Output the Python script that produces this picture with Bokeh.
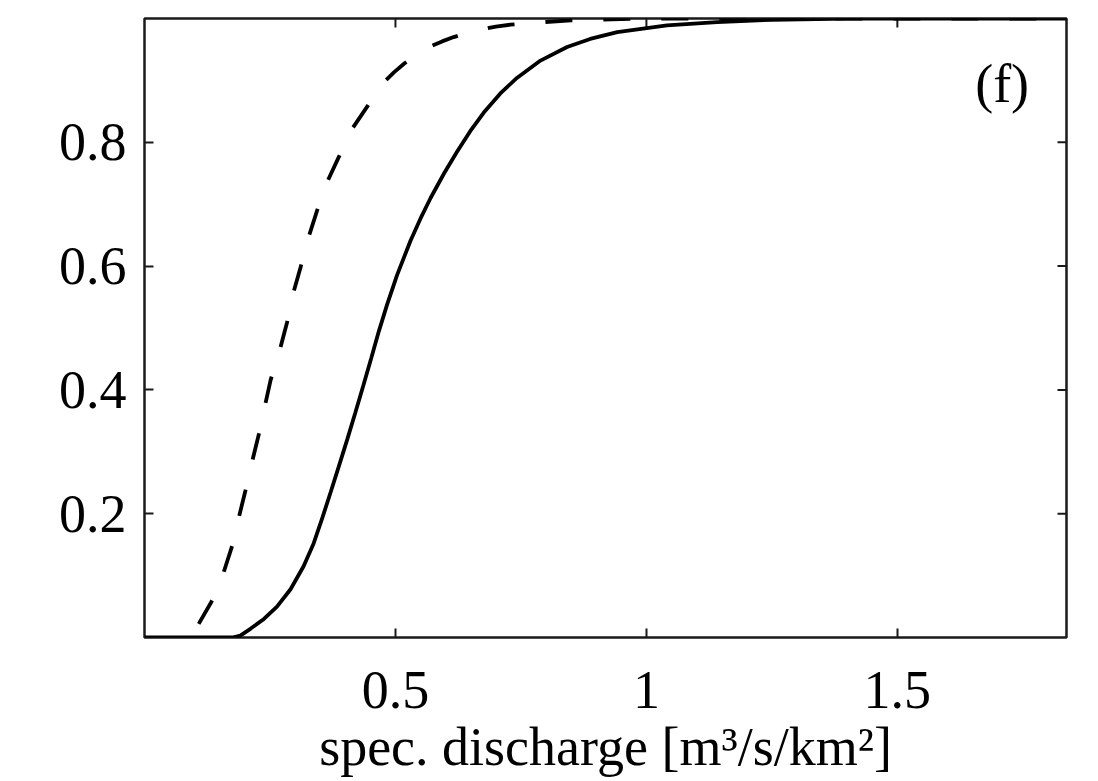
import math
from bokeh.plotting import figure
from bokeh.models import FixedTicker, Label, CustomJSTickFormatter, Range1d
from bokeh.embed import file_html
from bokeh.resources import INLINE

# Data
solid_x = [0.0, 0.10, 0.175, 0.191, 0.211, 0.238, 0.264, 0.291, 0.317, 0.337, 0.355,
           0.371, 0.387, 0.404, 0.420, 0.436, 0.452, 0.467, 0.483, 0.503, 0.530, 0.550,
           0.570, 0.597, 0.623, 0.649, 0.676, 0.709, 0.742, 0.789, 0.842, 0.888, 0.942,
           1.041, 1.141, 1.25, 1.40, 1.84]
solid_y = [0.0, 0.0, 0.0, 0.003, 0.014, 0.030, 0.050, 0.078, 0.115, 0.152, 0.195,
           0.235, 0.276, 0.320, 0.363, 0.407, 0.452, 0.495, 0.537, 0.585, 0.641, 0.677,
           0.710, 0.750, 0.785, 0.818, 0.848, 0.879, 0.904, 0.932, 0.954, 0.967, 0.978,
           0.989, 0.994, 0.998, 1.0, 1.0]

dashed_x = [0.108, 0.135, 0.158, 0.175, 0.188, 0.201, 0.215, 0.228, 0.241, 0.251, 0.271,
            0.284, 0.297, 0.311, 0.327, 0.344, 0.364, 0.387, 0.414, 0.444, 0.460, 0.477,
            0.497, 0.517, 0.543, 0.570, 0.593, 0.616, 0.646, 0.676, 0.700, 0.729, 0.760,
            0.792, 0.850, 0.908, 1.0, 1.84]
dashed_y = [0.022, 0.060, 0.106, 0.149, 0.194, 0.237, 0.286, 0.329, 0.378, 0.415, 0.469,
            0.509, 0.558, 0.598, 0.647, 0.690, 0.736, 0.776, 0.822, 0.858, 0.879, 0.897,
            0.913, 0.927, 0.942, 0.955, 0.963, 0.970, 0.977, 0.983, 0.987, 0.990, 0.992,
            0.994, 0.997, 0.998, 1.0, 1.0]

x_ticks = [0.5, 1.0, 1.5]
y_ticks = [0.2, 0.4, 0.6, 0.8]
x_label = "spec. discharge [m³/s/km²]"
panel_tag = "(f)"

X_MIN, X_MAX = 0.0, 1.837
Y_MIN, Y_MAX = 0.0, 1.0

FONT = "Liberation Serif"
FS = "54px"
INK = "#1a1a1a"

p = figure(width=1098, height=781, output_backend="svg", toolbar_location=None,
           x_range=Range1d(X_MIN, X_MAX), y_range=Range1d(Y_MIN, Y_MAX),
           min_border_left=144, min_border_right=32, min_border_top=18, min_border_bottom=144)
p.grid.visible = False
p.background_fill_color = "white"
p.border_fill_color = "white"
p.outline_line_color = INK
p.outline_line_width = 2.5

fmt = CustomJSTickFormatter(code="return String(Math.round(tick*10)/10);")

xax = p.xaxis[0]
yax = p.yaxis[0]
for ax, ticks in ((xax, x_ticks), (yax, y_ticks)):
    ax.ticker = FixedTicker(ticks=ticks)
    ax.formatter = fmt
    ax.major_tick_in = 9
    ax.major_tick_out = 0
    ax.minor_tick_line_color = None
    ax.major_tick_line_color = INK
    ax.major_tick_line_width = 2
    ax.axis_line_color = None
    ax.major_label_text_font = FONT
    ax.major_label_text_font_size = FS
    ax.major_label_text_color = "black"

xax.major_label_standoff = 34
yax.major_label_standoff = 18

xax.axis_label = x_label
xax.axis_label_text_font = FONT
xax.axis_label_text_font_size = FS
xax.axis_label_text_font_style = "normal"
xax.axis_label_text_color = "black"
xax.axis_label_standoff = 6

# inward ticks on the top and right frame edges (clipped to the frame)
p.scatter(x=x_ticks, y=[Y_MAX] * len(x_ticks), marker="dash", angle=math.pi / 2,
          size=18, line_color=INK, line_width=2)
p.scatter(x=[X_MAX] * len(y_ticks), y=y_ticks, marker="dash",
          size=18, line_color=INK, line_width=2)

p.line(solid_x, solid_y, line_color="black", line_width=3.8)
p.line(dashed_x, dashed_y, line_color="black", line_width=3.8, line_dash="27 31")

p.add_layout(Label(x=1.655, y=0.894, text=panel_tag, text_font=FONT, text_font_size=FS,
                   text_color="black", text_baseline="alphabetic"))

open("out.html", "w").write(file_html(p, INLINE))
